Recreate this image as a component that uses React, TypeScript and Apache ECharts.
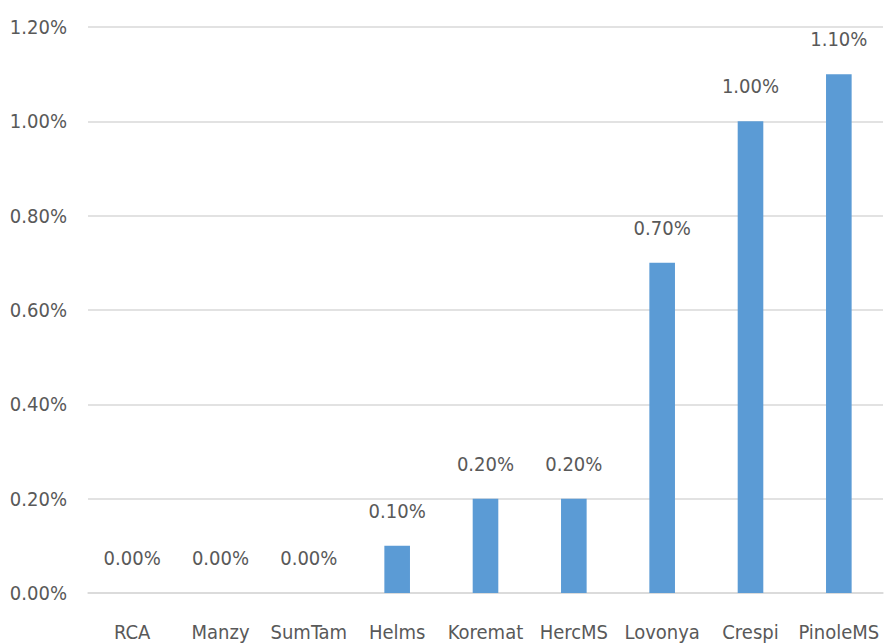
import React, { useEffect, useRef } from "react";
import * as echarts from "echarts";

const categories = ["RCA", "Manzy", "SumTam", "Helms", "Koremat", "HercMS", "Lovonya", "Crespi", "PinoleMS"];
const values = [0.0, 0.0, 0.0, 0.1, 0.2, 0.2, 0.7, 1.0, 1.1];
const yTicks = { min: 0, max: 1.2, interval: 0.2 };

const FONT = "'DejaVu Sans Condensed', 'Liberation Sans', sans-serif";
const TEXT = "#595959";

export default function App() {
  const ref = useRef<HTMLDivElement>(null);
  useEffect(() => {
    if (!ref.current) return;
    const chart = echarts.init(ref.current, undefined, { renderer: "svg" });
    chart.setOption({
      animation: false,
      grid: { left: 88, right: 5, top: 27, bottom: 51, containLabel: false },
      xAxis: {
        type: "category",
        data: categories,
        axisLine: { lineStyle: { color: "#d9d9d9", width: 1.5 } },
        axisTick: { show: false },
        axisLabel: { color: TEXT, fontFamily: FONT, fontSize: 20, margin: 29, interval: 0 },
      },
      yAxis: {
        type: "value",
        min: yTicks.min,
        max: yTicks.max,
        interval: yTicks.interval,
        axisLine: { show: false },
        axisTick: { show: false },
        splitLine: { lineStyle: { color: "#d9d9d9", width: 1.5 } },
        axisLabel: {
          color: TEXT,
          fontFamily: FONT,
          fontSize: 20,
          margin: 21,
          formatter: (v: number) => v.toFixed(2) + "%",
        },
      },
      series: [
        {
          type: "bar",
          data: values,
          barWidth: "29%",
          itemStyle: { color: "#5B9BD5" },
          label: {
            show: true,
            position: "top",
            distance: 25,
            color: TEXT,
            fontFamily: FONT,
            fontSize: 20,
            formatter: (p: any) => Number(p.value).toFixed(2) + "%",
          },
        },
      ],
    });
    return () => chart.dispose();
  }, []);
  return <div ref={ref} style={{ position: "absolute", left: 0, top: 0, width: 888, height: 644 }} />;
}
